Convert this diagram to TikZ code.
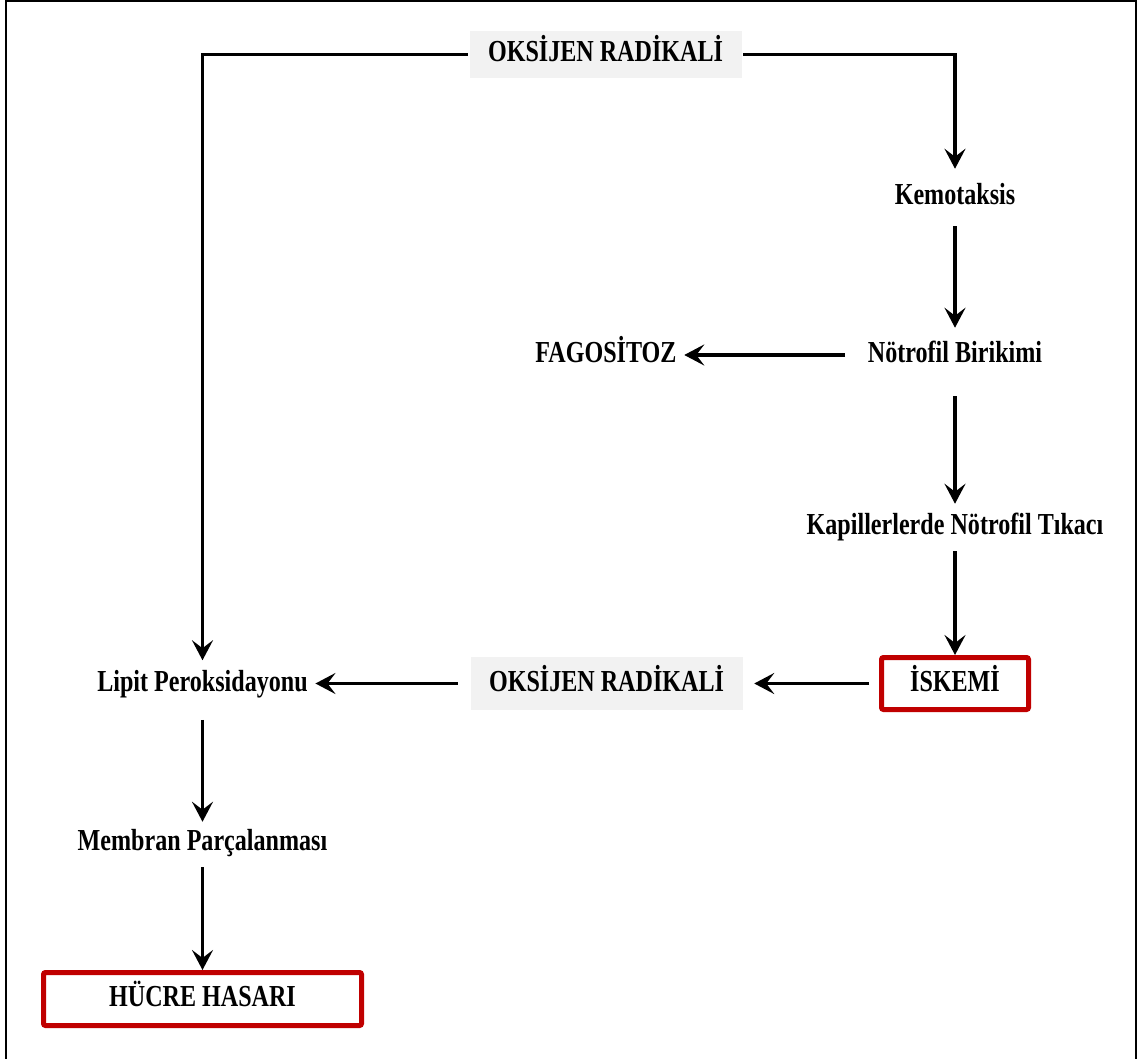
\documentclass[tikz,border=0pt]{standalone}
\usepackage{fontspec}
\setmainfont{Liberation Serif}[FakeStretch=0.79]
\usetikzlibrary{arrows.meta}
\definecolor{boxred}{RGB}{192,0,0}
\definecolor{boxgrey}{RGB}{242,242,242}

\begin{document}
\begin{tikzpicture}[x=1pt, y=-1pt, line width=3.5pt, >={Stealth[length=20pt,width=21pt,inset=8pt]},
	lbl/.style={font=\fontsize{30.5}{36}\selectfont\bfseries, inner xsep=6pt, inner ysep=6pt, text height=21pt, text depth=6pt},
	greybox/.style={lbl, fill=boxgrey, minimum width=272pt},
	redbox/.style={lbl, draw=boxred, line width=5pt, rounded corners=2pt}]
	\useasboundingbox (0,0) rectangle (1138,1059);
	\draw[line width=2.5pt] (6,1.25) rectangle (1136,1070);

	\node [greybox, minimum height=47pt]									(oxtop)	at (605.5,54.5)	{OKSİJEN RADİKALİ};
	\node [lbl]																(kemo)		at (955,197)		{Kemotaksis};
	\node [lbl]																(notro)	[below of=kemo, node distance=158pt]		{Nötrofil Birikimi};
	\node [lbl]																(fago)		[left of=notro, node distance=349pt]		{FAGOSİTOZ};
	\node [lbl]																(kapil)	[below of=notro, node distance=172pt]		{Kapillerlerde Nötrofil Tıkacı};
	\node [redbox, minimum width=147pt, minimum height=52pt]		(iskemi)	[below of=kapil, node distance=156.5pt]	{İSKEMİ};
	\node [greybox, minimum height=53pt]									(oxmid)	[left of=iskemi, node distance=348.5pt]	{OKSİJEN RADİKALİ};
	\node [lbl]																(lipit)	[left of=oxmid, node distance=404pt]		{Lipit Peroksidayonu};
	\node [lbl]																(membran)	[below of=lipit, node distance=159.5pt]	{Membran Parçalanması};
	\node [redbox, minimum width=318pt, minimum height=53pt]		(hucre)	[below of=membran, node distance=156pt]	{HÜCRE HASARI};

	\draw[->, shorten >=7pt] (oxtop.east) -| (kemo.north);
	\draw[->, shorten >=2pt] (oxtop.west) -| (lipit.north);
	\draw[->, shorten <=8pt, shorten >=6pt] (kemo) -- (notro);
	\draw[->, shorten <=15pt] (notro) -- (fago);
	\draw[->, shorten <=20pt, shorten >=2pt] (notro) -- (kapil);
	\draw[->, shorten <=3pt] (kapil) -- (iskemi);
	\draw[->, shorten <=10pt, shorten >=10pt] (iskemi) -- (oxmid);
	\draw[->, shorten <=11pt] (oxmid) -- (lipit);
	\draw[->, shorten <=15pt] (lipit) -- (membran);
	\draw[->, shorten <=3pt] (membran) -- (hucre);
\end{tikzpicture}
\end{document}
